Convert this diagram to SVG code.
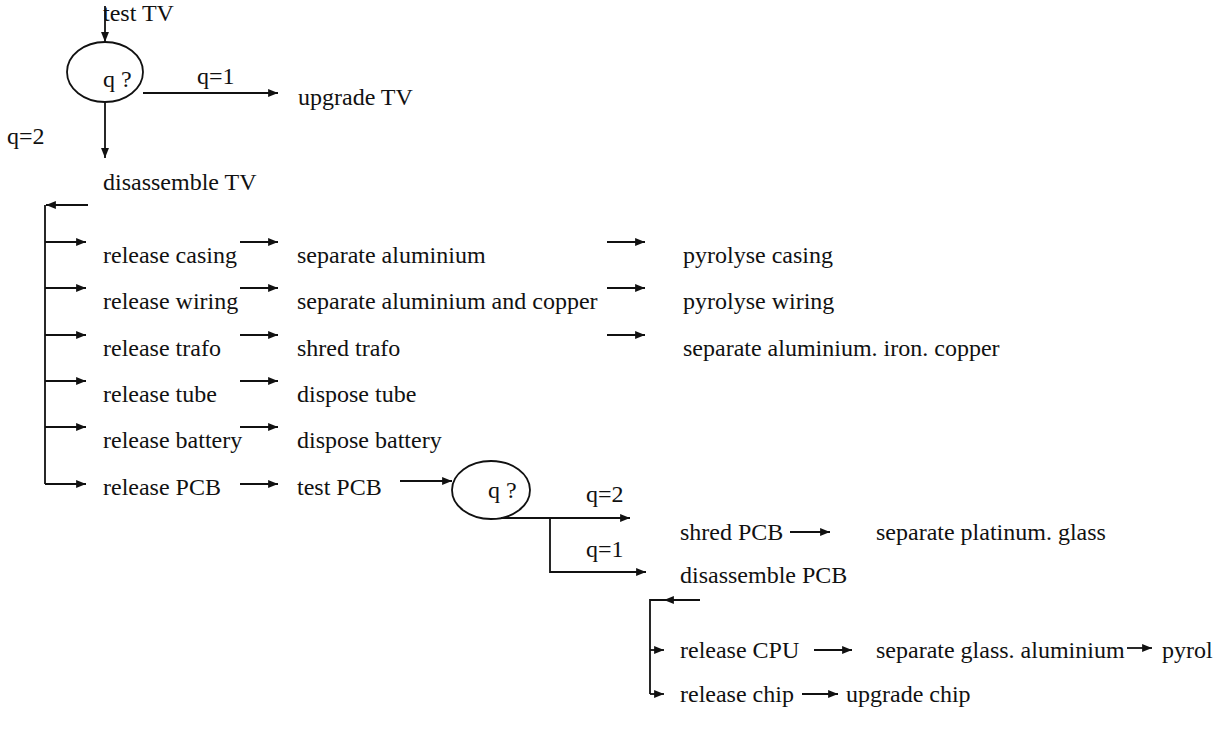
<svg xmlns="http://www.w3.org/2000/svg" width="1218" height="750" viewBox="0 0 1218 750">
<style>
text{font-family:"Liberation Serif","Times New Roman",serif;font-size:24px;fill:#111}
.c{stroke:#111;stroke-width:1.8;fill:none}
.e{stroke:#111;stroke-width:1.8;fill:none}
</style>
<defs>
<marker id="ah" viewBox="0 0 10 10" refX="10" refY="5" markerWidth="5.5" markerHeight="5.5" orient="auto" markerUnits="strokeWidth">
<path d="M0,1 L10,5 L0,9 z" fill="#111"/>
</marker>
</defs>
<rect width="1218" height="750" fill="#fff"/>
<g id="connectors" class="c">
<path d="M105,6 V42" marker-end="url(#ah)"/>
<path d="M143,93 H278" marker-end="url(#ah)"/>
<path d="M105,102 V158" marker-end="url(#ah)"/>
<path d="M88,205 H46" marker-end="url(#ah)"/>
<path d="M45,205 V484"/>
<path d="M45,242 H86" marker-end="url(#ah)"/>
<path d="M45,288 H86" marker-end="url(#ah)"/>
<path d="M45,335 H86" marker-end="url(#ah)"/>
<path d="M45,381 H86" marker-end="url(#ah)"/>
<path d="M45,427 H86" marker-end="url(#ah)"/>
<path d="M45,484 H86" marker-end="url(#ah)"/>
<path d="M240,242 H278" marker-end="url(#ah)"/>
<path d="M240,288 H278" marker-end="url(#ah)"/>
<path d="M240,335 H278" marker-end="url(#ah)"/>
<path d="M240,381 H278" marker-end="url(#ah)"/>
<path d="M240,427 H278" marker-end="url(#ah)"/>
<path d="M240,484 H278" marker-end="url(#ah)"/>
<path d="M607,242 H645" marker-end="url(#ah)"/>
<path d="M607,288 H645" marker-end="url(#ah)"/>
<path d="M607,335 H645" marker-end="url(#ah)"/>
<path d="M400,481 H452" marker-end="url(#ah)"/>
<path d="M501,518 H630" marker-end="url(#ah)"/>
<path d="M550,518 V572 H646" marker-end="url(#ah)"/>
<path d="M790,532 H830" marker-end="url(#ah)"/>
<path d="M700,600 H664" marker-end="url(#ah)"/>
<path d="M665,600 H650 V694"/>
<path d="M650,650 H664" marker-end="url(#ah)"/>
<path d="M650,694 H664" marker-end="url(#ah)"/>
<path d="M814,650 H852" marker-end="url(#ah)"/>
<path d="M1127,648 H1152" marker-end="url(#ah)"/>
<path d="M802,694 H838" marker-end="url(#ah)"/>
</g>
<g id="test-tv"><text x="103" y="21">test TV</text></g>
<g id="decision-tv"><ellipse class="e" cx="105" cy="72" rx="38" ry="30"/><text x="103" y="87">q ?</text></g>
<g id="label-q1-tv"><text x="197" y="84">q=1</text></g>
<g id="upgrade-tv"><text x="298" y="105">upgrade TV</text></g>
<g id="label-q2-tv"><text x="7" y="144">q=2</text></g>
<g id="disassemble-tv"><text x="103" y="190">disassemble TV</text></g>
<g id="release-casing"><text x="103" y="263">release casing</text></g>
<g id="separate-al"><text x="297" y="263">separate aluminium</text></g>
<g id="pyrolyse-casing"><text x="683" y="263">pyrolyse casing</text></g>
<g id="release-wiring"><text x="103" y="309">release wiring</text></g>
<g id="separate-al-cu"><text x="297" y="309">separate aluminium and copper</text></g>
<g id="pyrolyse-wiring"><text x="683" y="309">pyrolyse wiring</text></g>
<g id="release-trafo"><text x="103" y="356">release trafo</text></g>
<g id="shred-trafo"><text x="297" y="356">shred trafo</text></g>
<g id="separate-al-fe-cu"><text x="683" y="356">separate aluminium. iron. copper</text></g>
<g id="release-tube"><text x="103" y="402">release tube</text></g>
<g id="dispose-tube"><text x="297" y="402">dispose tube</text></g>
<g id="release-battery"><text x="103" y="448">release battery</text></g>
<g id="dispose-battery"><text x="297" y="448">dispose battery</text></g>
<g id="release-pcb"><text x="103" y="495">release PCB</text></g>
<g id="test-pcb"><text x="297" y="495">test PCB</text></g>
<g id="decision-pcb"><ellipse class="e" cx="491" cy="490" rx="39" ry="29"/><text x="488" y="498">q ?</text></g>
<g id="label-q2-pcb"><text x="586" y="502">q=2</text></g>
<g id="label-q1-pcb"><text x="586" y="557">q=1</text></g>
<g id="shred-pcb"><text x="680" y="540">shred PCB</text></g>
<g id="separate-pt-glass"><text x="876" y="540">separate platinum. glass</text></g>
<g id="disassemble-pcb"><text x="680" y="583">disassemble PCB</text></g>
<g id="release-cpu"><text x="680" y="658">release CPU</text></g>
<g id="separate-glass-al"><text x="876" y="658">separate glass. aluminium</text></g>
<g id="pyrolyse-cpu"><text x="1162" y="658">pyrol</text></g>
<g id="release-chip"><text x="680" y="702">release chip</text></g>
<g id="upgrade-chip"><text x="846" y="702">upgrade chip</text></g>
</svg>
